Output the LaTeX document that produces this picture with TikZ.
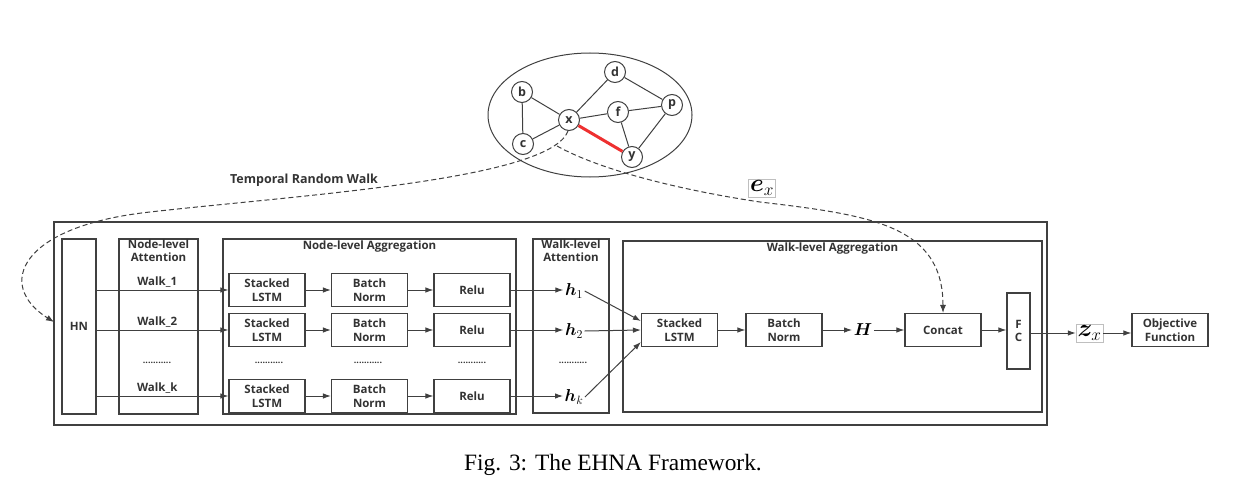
\documentclass[tikz,border=0pt]{standalone}
\usepackage[no-math]{fontspec}
\setmainfont{Liberation Serif}
\newfontfamily\dsans{Open Sans}
\usepackage{bm}
\usetikzlibrary{arrows.meta,shapes.geometric,calc}
\definecolor{linec}{HTML}{404040}
\definecolor{txtc}{HTML}{333333}
\definecolor{redc}{HTML}{EE3030}
\begin{document}
\begin{tikzpicture}[x=1pt,y=-1pt,
  lbl/.style={font=\dsans\bfseries\fontsize{11.5}{13.5}\selectfont, text=txtc},
  box/.style={draw=linec, line width=1.1pt, lbl, align=center, inner sep=0pt, minimum width=76pt, minimum height=33pt},
  grp/.style={draw=linec, line width=1.1pt, inner sep=0pt},
  arr/.style={draw=linec, line width=1pt, -{Latex[length=8pt,width=5.5pt]}},
  dsh/.style={draw=linec, line width=1pt, dash pattern=on 5pt off 3pt},
  gnode/.style={circle, draw=linec, line width=1pt, fill=white, minimum size=21pt, inner sep=0pt, font=\dsans\bfseries\fontsize{12.5}{12.5}\selectfont, text=txtc},
  gedge/.style={draw=linec, line width=1pt},
  mth/.style={text=black, inner sep=1.5pt},
  dotsn/.style={font=\dsans\bfseries\fontsize{9}{9}\selectfont, text=txtc}
]
\useasboundingbox (0,0) rectangle (1252,495);

% ---- graph ----
\node[ellipse, draw=linec, line width=1pt, minimum width=204pt, minimum height=124pt, inner sep=0pt] (ell) at (590,115) {};
\node[gnode] (b) at (522,92) {b};
\node[gnode] (c) at (523,144) {c};
\node[gnode] (x) at (569,120) {x};
\node[gnode] (d) at (615,72) {d};
\node[gnode] (f) at (618,112) {f};
\node[gnode] (p) at (672,105) {p};
\node[gnode] (y) at (632,157) {y};
\draw[gedge] (b) -- (x);
\draw[gedge] (b) -- (c);
\draw[gedge] (c) -- (x);
\draw[gedge] (x) -- (d);
\draw[gedge] (x) -- (f);
\draw[gedge] (d) -- (p);
\draw[gedge] (f) -- (p);
\draw[gedge] (f) -- (y);
\draw[gedge] (p) -- (y);
\draw[redc, line width=3pt] (x) -- (y);

% ---- frames ----
\node[grp, minimum width=993pt, minimum height=203pt] (outer) at (550.5,323.5) {};
\node[grp, lbl, minimum width=34pt, minimum height=175pt] (HN) at (79,326.5) {HN};
\node[grp, minimum width=79pt, minimum height=175pt] (NLA) at (158.5,326.5) {};
\node[lbl, anchor=north, align=center, inner sep=1pt] (NLAt) at (NLA.north) {Node-level\\Attention};
\node[grp, minimum width=293pt, minimum height=175pt] (NAG) at (369.5,326.5) {};
\node[lbl, anchor=north, inner sep=2pt] (NAGt) at (NAG.north) {Node-level Aggregation};
\node[grp, minimum width=76pt, minimum height=174pt] (WLA) at (571,326) {};
\node[lbl, anchor=north, align=center, inner sep=1pt] (WLAt) at (WLA.north) {Walk-level\\Attention};
\node[grp, minimum width=419pt, minimum height=171pt] (WAG) at (832.5,326.5) {};
\node[lbl, anchor=north, inner sep=2pt] (WAGt) at (WAG.north) {Walk-level Aggregation};

% ---- rows ----
\node[box] (L1) at (267,290) {Stacked\\LSTM};
\node[box] (B1) at (369.5,290) {Batch\\Norm};
\node[box] (R1) at (472,290) {Relu};
\node[box] (L2) at (267,330) {Stacked\\LSTM};
\node[box] (B2) at (369.5,330) {Batch\\Norm};
\node[box] (R2) at (472,330) {Relu};
\node[box] (L3) at (267,396) {Stacked\\LSTM};
\node[box] (B3) at (369.5,396) {Batch\\Norm};
\node[box] (R3) at (472,396) {Relu};

\node[dotsn] (d1) at (157,363) {...........};
\node[dotsn] (d2) at (269,363) {...........};
\node[dotsn] (d3) at (368,363) {...........};
\node[dotsn] (d4) at (472,363) {...........};
\node[dotsn] (d5) at (573,363) {...........};

\draw[arr] (HN.east |- L1.west) -- node[lbl, above, pos=0.46, inner sep=2pt] (w1) {Walk\_1} (L1.west);
\draw[arr] (HN.east |- L2.west) -- node[lbl, above, pos=0.46, inner sep=2pt] (w2) {Walk\_2} (L2.west);
\draw[arr] (HN.east |- L3.west) -- node[lbl, above, pos=0.46, inner sep=2pt] (w3) {Walk\_k} (L3.west);
\draw[arr] (L1) -- (B1);
\draw[arr] (B1) -- (R1);
\draw[arr] (L2) -- (B2);
\draw[arr] (B2) -- (R2);
\draw[arr] (L3) -- (B3);
\draw[arr] (B3) -- (R3);

\node[mth] (h1) at (574,291) {\fontsize{17}{17}\selectfont$\bm{h}_1$};
\node[mth] (h2) at (574,331) {\fontsize{17}{17}\selectfont$\bm{h}_2$};
\node[mth] (hk) at (574,397) {\fontsize{17}{17}\selectfont$\bm{h}_k$};
\draw[arr] (R1.east) -- (R1.east -| h1.west);
\draw[arr] (R2.east) -- (R2.east -| h2.west);
\draw[arr] (R3.east) -- (R3.east -| hk.west);

% ---- walk-level aggregation ----
\node[box] (WL) at (679.5,330) {Stacked\\LSTM};
\node[box] (WB) at (784,330) {Batch\\Norm};
\node[mth] (H) at (863,330) {\fontsize{19}{19}\selectfont$\bm{H}$};
\node[box] (CC) at (943,330) {Concat};
\node[box, minimum width=23pt, minimum height=76pt] (FC) at (1018.5,331) {F\\C};
\node[mth, draw=black!25, line width=0.5pt] (zx) at (1089.5,333) {\fontsize{24}{24}\selectfont$\bm{z}_x$};
\node[box] (OF) at (1170,330) {Objective\\Function};

\draw[arr] (h1.east) -- ($(WL.west)+(0,-9)$);
\draw[arr] (h2.east) -- (WL.west);
\draw[arr] (hk.east) -- ($(WL.west)+(0,12)$);
\draw[arr] (WL) -- (WB);
\draw[arr] (WB) -- (WB.east -| H.west);
\draw[arr] (H) -- (H.east -| CC.west);
\draw[arr] (CC) -- (CC.east -| FC.west);
\draw[arr] (FC.east |- zx.west) -- (zx.west);
\draw[arr] (zx.east) -- (zx.east -| OF.west);

% ---- labels and dashed links ----
\node[lbl, font=\dsans\bfseries\fontsize{12.5}{14}\selectfont] (trw) at (304,180) {Temporal Random Walk};
\node[mth, draw=black!25, line width=0.5pt] (ex) at (762,188) {\fontsize{24}{24}\selectfont$\bm{e}_x$};
\coordinate (HNin) at (54,322);
\coordinate (br) at (557,146);
\draw[dsh, -{Latex[length=8pt,width=6pt]}] (x.265) .. controls (550,180) and (300,195) .. (150,212) .. controls (20,226) and (-5,285) .. (HNin);
\draw[dsh, -{Latex[length=8pt,width=6pt]}] (br) .. controls (600,170) and (680,190) .. (760,202) .. controls (870,215) and (943,225) .. (CC.north);

% ---- caption ----
\node[font=\fontsize{23.4}{26}\selectfont] (cap) at (613,465) {Fig. 3: The EHNA Framework.};
\end{tikzpicture}
\end{document}
